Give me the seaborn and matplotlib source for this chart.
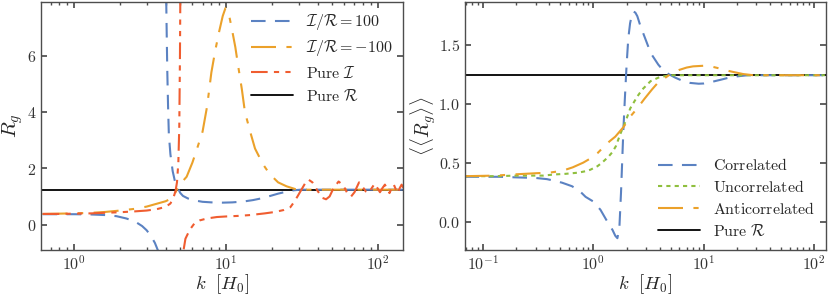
import numpy as np
import pandas as pd
import matplotlib.pyplot as plt
import matplotlib.ticker as mticker
import seaborn as sns

# ---- data ----
pure_R = 1.24

# left panel: R_g vs k
k_pos_a = [0.62, 0.8, 1.0, 1.3, 1.6, 1.9, 2.2, 2.5, 2.8, 3.0, 3.2, 3.4, 3.55, 3.68]
rg_pos_a = [0.37, 0.37, 0.37, 0.36, 0.34, 0.30, 0.22, 0.12, -0.05, -0.2, -0.4, -0.65, -0.9, -1.3]
k_pos_b = [4.0, 4.03, 4.06, 4.1, 4.15, 4.2, 4.3, 4.45, 4.6, 4.8, 5.0, 5.2, 5.6, 6.2, 7.0, 8.0,
           9.5, 11, 13, 15, 17, 19, 22, 25, 28, 31, 40, 80, 150]
rg_pos_b = [9.5, 8.2, 7.0, 5.5, 4.2, 3.2, 2.5, 1.9, 1.55, 1.3, 1.12, 1.02, 0.93, 0.86, 0.81, 0.79,
            0.78, 0.79, 0.82, 0.87, 0.93, 1.0, 1.1, 1.17, 1.22, 1.24, 1.24, 1.24, 1.24]

k_neg = [0.62, 0.8, 1.0, 1.3, 1.6, 2.0, 2.5, 3.0, 3.65, 4.0, 4.45, 4.7, 4.85, 5.1, 5.5, 6.0,
         6.4, 7.0, 7.5, 8.0, 8.5, 9.0, 9.5, 9.9, 10.4, 10.9, 11.5, 12.0, 12.7, 13.3, 14.4,
         15.5, 17.5, 19, 20, 22, 25, 28.6, 32, 40, 80, 150]
rg_neg = [0.38, 0.39, 0.40, 0.42, 0.45, 0.50, 0.56, 0.64, 0.77, 0.83, 0.95, 1.2, 1.35, 1.5, 1.7, 2.2,
          2.65, 3.3, 4.2, 5.4, 6.2, 6.85, 7.4, 7.68, 7.5, 6.96, 6.3, 5.64, 4.8, 4.0, 3.3,
          2.7, 2.14, 1.86, 1.72, 1.5, 1.36, 1.26, 1.24, 1.24, 1.24, 1.24]

k_pi_a = [0.62, 0.8, 1.0, 1.3, 1.6, 2.0, 2.5, 3.0, 3.5, 4.0, 4.3, 4.5, 4.65, 4.75, 4.85, 4.92, 4.97, 5.01]
rg_pi_a = [0.38, 0.38, 0.39, 0.40, 0.42, 0.44, 0.47, 0.50, 0.55, 0.63, 0.75, 0.95, 1.2, 1.5, 2.2, 3.5, 6.0, 9.0]
k_pi_b = [5.15, 5.25, 5.4, 5.77, 6.2, 6.7, 7.5, 8.7, 10, 12, 14.4, 18, 21, 24, 26.5, 28, 29.5,
          31, 33, 34.8, 37, 40, 43, 45.5, 48, 51, 55, 59, 63, 66.5, 70, 75, 79, 83, 87,
          91, 95, 99, 103, 107, 111, 115, 119, 123, 127, 131, 135, 139, 143, 147]
rg_pi_b = [-2.5, -0.9, -0.5, -0.18, 0.05, 0.15, 0.22, 0.27, 0.29, 0.31, 0.34, 0.40, 0.45, 0.52, 0.62, 0.8, 1.0,
           1.2, 1.45, 1.6, 1.5, 1.2, 0.95, 0.9, 1.0, 1.3, 1.53, 1.4, 1.1, 1.0, 1.15, 1.5, 1.35, 1.18, 1.13,
           1.3, 1.45, 1.3, 1.15, 1.3, 1.42, 1.25, 1.12, 1.3, 1.42, 1.25, 1.12, 1.3, 1.42, 1.3]

# right panel: <<R_g>> vs k
k_cor = [0.068, 0.1, 0.14, 0.2, 0.3, 0.38, 0.45, 0.52, 0.64, 0.75, 0.85, 1.0, 1.16, 1.3, 1.49, 1.58,
         1.65, 1.72, 1.78, 1.83, 1.87, 1.93, 2.0, 2.07, 2.15, 2.23, 2.3, 2.4, 2.5, 2.66, 2.95, 3.15,
         3.4, 3.87, 4.3, 4.8, 5.5, 6.5, 7.5, 9, 10, 12, 14, 17, 20, 25, 125]
rg_cor = [0.38, 0.38, 0.38, 0.375, 0.37, 0.36, 0.345, 0.33, 0.30, 0.26, 0.21, 0.17, 0.10, 0.02, -0.07, -0.12,
          -0.14, -0.05, 0.25, 0.55, 0.78, 1.05, 1.33, 1.55, 1.68, 1.75, 1.78, 1.77, 1.74, 1.66, 1.55, 1.48,
          1.41, 1.33, 1.28, 1.25, 1.22, 1.19, 1.175, 1.168, 1.17, 1.185, 1.2, 1.22, 1.23, 1.24, 1.24]

k_unc = [0.068, 0.13, 0.2, 0.28, 0.35, 0.45, 0.56, 0.73, 0.88, 0.94, 1.09, 1.2, 1.37, 1.49, 1.6,
         1.75, 1.9, 2.03, 2.16, 2.5, 2.78, 3.3, 4.0, 5.0, 125]
rg_unc = [0.385, 0.385, 0.39, 0.39, 0.39, 0.40, 0.405, 0.415, 0.43, 0.44, 0.47, 0.50, 0.55, 0.59, 0.64,
          0.74, 0.82, 0.89, 0.96, 1.06, 1.12, 1.19, 1.225, 1.24, 1.24]

k_anti = [0.068, 0.13, 0.19, 0.3, 0.4, 0.52, 0.65, 0.81, 1.0, 1.09, 1.23, 1.4, 1.58, 1.87, 2.16,
          2.5, 2.9, 3.4, 3.87, 4.2, 5.0, 6.0, 7.0, 8.0, 9.9, 11, 13.5, 17, 22.7, 28, 125]
rg_anti = [0.385, 0.39, 0.40, 0.41, 0.415, 0.43, 0.46, 0.50, 0.55, 0.58, 0.63, 0.68, 0.72, 0.80, 0.89,
           0.96, 1.04, 1.12, 1.18, 1.20, 1.25, 1.285, 1.305, 1.315, 1.32, 1.32, 1.30, 1.275, 1.25, 1.24, 1.24]

# ---- style ----
sns.set_theme(style="ticks")
plt.rcParams.update({
    "mathtext.fontset": "cm",
    "font.family": ["DejaVu Serif"],
    "axes.edgecolor": "0.3",
    "axes.linewidth": 1.0,
    "xtick.direction": "in", "ytick.direction": "in",
    "xtick.top": True, "ytick.right": True,
    "xtick.major.size": 4, "ytick.major.size": 4,
    "xtick.minor.size": 2, "ytick.minor.size": 2,
    "xtick.color": "0.3", "ytick.color": "0.3",
    "xtick.labelcolor": "0.2", "ytick.labelcolor": "0.2",
    "xtick.labelsize": 11.5, "ytick.labelsize": 11.5,
})

blue = "#5b82c2"
orange = "#eba12a"
red = "#f05d30"
green = "#8fbf3e"

ls_blue = (0, (7, 4.5))
ls_orange = (0, (12, 5, 2.5, 5))
ls_red = (0, (8, 3, 2.5, 3, 2.5, 3))
ls_green = (0, (2, 2))

fig = plt.figure(figsize=(8.3, 2.97), dpi=100)
ax1 = fig.add_axes([41 / 830, 47 / 297, 362 / 830, 248 / 297])
ax2 = fig.add_axes([465 / 830, 47 / 297, 361 / 830, 248 / 297])


def curve(ax, k, y, color, ls, label=None):
    sns.lineplot(x=k, y=y, ax=ax, color=color, linestyle=ls, linewidth=1.5,
                 estimator=None, sort=False, label=label, legend=label is not None)


# left panel
curve(ax1, k_pos_a, rg_pos_a, blue, ls_blue, r"$\mathcal{I}/\mathcal{R} = 100$")
curve(ax1, k_pos_b, rg_pos_b, blue, ls_blue)
curve(ax1, k_neg, rg_neg, orange, ls_orange, r"$\mathcal{I}/\mathcal{R} = -100$")
curve(ax1, k_pi_a, rg_pi_a, red, ls_red, r"$\mathrm{Pure}\ \mathcal{I}$")
curve(ax1, k_pi_b, rg_pi_b, red, ls_red)
ax1.axhline(pure_R, color="black", lw=1.3, zorder=1.8, label=r"$\mathrm{Pure}\ \mathcal{R}$")

ax1.set_xscale("log")
ax1.set_xlim(0.605, 146)
ax1.set_ylim(-0.9, 7.9)
ax1.set_yticks([0, 2, 4, 6])
ax1.set_xlabel(r"$k\ \ [H_0]$", fontsize=13.5, labelpad=-1)
ax1.set_ylabel(r"$R_g$", fontsize=15, labelpad=1)

# right panel
curve(ax2, k_cor, rg_cor, blue, ls_blue, r"$\mathrm{Correlated}$")
curve(ax2, k_unc, rg_unc, green, ls_green, r"$\mathrm{Uncorrelated}$")
curve(ax2, k_anti, rg_anti, orange, ls_orange, r"$\mathrm{Anticorrelated}$")
ax2.axhline(pure_R, color="black", lw=1.3, zorder=1.8, label=r"$\mathrm{Pure}\ \mathcal{R}$")

ax2.set_xscale("log")
ax2.set_xlim(0.0687, 128)
ax2.set_ylim(-0.24, 1.86)
ax2.set_yticks([0.0, 0.5, 1.0, 1.5])
ax2.set_xlabel(r"$k\ \ [H_0]$", fontsize=13.5, labelpad=-1)
ax2.set_ylabel(r"$\langle\langle R_g \rangle\rangle$", fontsize=14, labelpad=0.5)

log_fmt = mticker.FuncFormatter(lambda v, p: rf"$10^{{{int(round(np.log10(v)))}}}$")
for ax, yfmt in [(ax1, "${:g}$"), (ax2, "${:.1f}$")]:
    ax.xaxis.set_major_formatter(log_fmt)
    ax.xaxis.set_minor_formatter(mticker.NullFormatter())
    ax.yaxis.set_major_formatter(mticker.FuncFormatter(lambda v, p, f=yfmt: f.format(v)))
    ax.tick_params(which="both", top=True, right=True, direction="in")
    ax.tick_params(axis="x", pad=4)

ax1.legend(loc="upper right", frameon=False, fontsize=11.5, handlelength=2.6,
           handletextpad=0.85, labelspacing=0.38, borderaxespad=0.25)
ax2.legend(loc="lower right", frameon=False, fontsize=11.5, handlelength=2.6,
           handletextpad=0.85, labelspacing=0.3, borderaxespad=0.25)

fig.savefig("out.png", dpi=100)
